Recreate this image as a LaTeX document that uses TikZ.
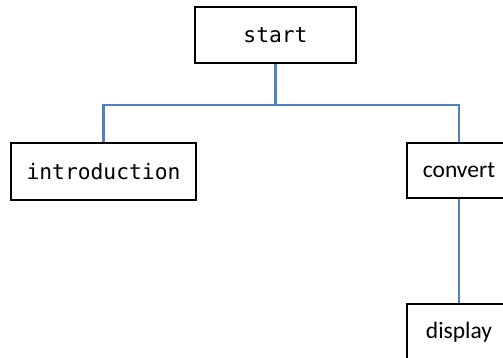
\documentclass[tikz,border=0pt]{standalone}
\usepackage{fontspec}
\newfontfamily\codefont{DejaVu Sans Mono}
\newfontfamily\bodyfont{Carlito}
\usepackage{tikz}
\usetikzlibrary{positioning}
\definecolor{wire}{HTML}{4F81BD}
\tikzset{
  box/.style={draw=black,line width=1.8pt,fill=white,inner sep=0pt,align=center},
  cbox/.style={box,font=\codefont\fontsize{21.3}{25}\selectfont},
  tbox/.style={box,font=\bodyfont\fontsize{23.5}{27}\selectfont},
  link/.style={draw=wire,line width=2.4pt},
}
\begin{document}
\begin{tikzpicture}[x=1pt,y=-1pt]
\useasboundingbox (0,0) rectangle (503,357);
\clip (0,0) rectangle (503,357);
\node[cbox,minimum width=161pt,minimum height=56pt] (start) at (275.5,35) {start};
\node[cbox,minimum width=185pt,minimum height=57pt] (intro) at (103.5,171.5) {introduction};
\node[tbox,minimum width=104pt,minimum height=55pt] (convert) at (459,170.5) {convert};
\node[tbox,minimum width=104pt,minimum height=56pt,below=104pt of convert] (display) {display};

\coordinate (bus) at (start.south |- 0,105);
\draw[link] (start.south) -- (bus);
\draw[link] (bus) -| (intro.north);
\draw[link] (bus) -| (convert.north);
\draw[link] (convert.south) -- (display.north);
\end{tikzpicture}
\end{document}
